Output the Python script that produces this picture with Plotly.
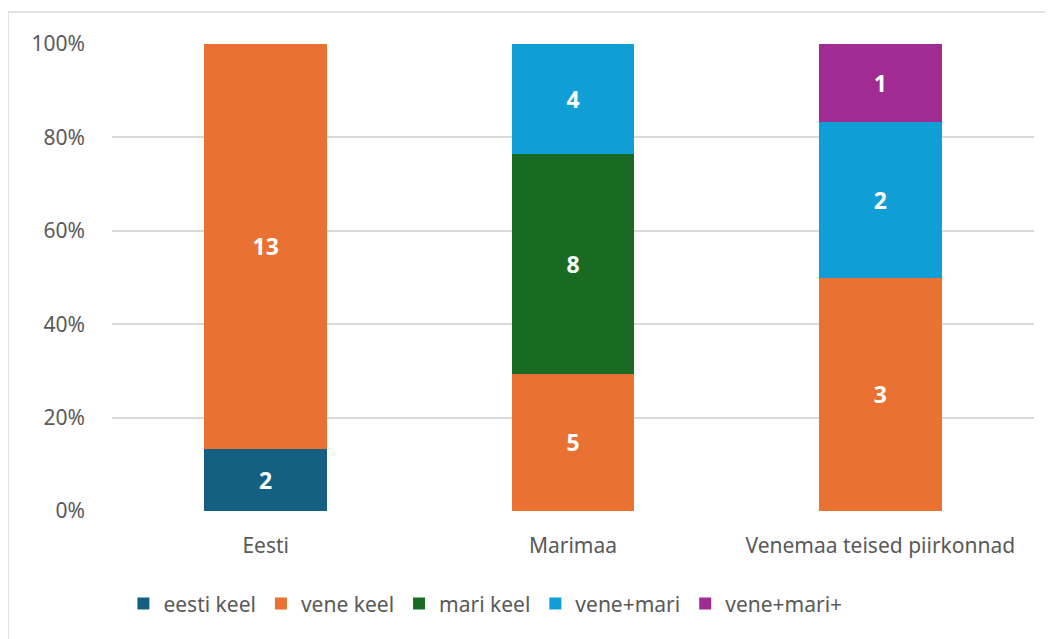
import plotly.graph_objects as go

categories = ["Eesti", "Marimaa", "Venemaa teised piirkonnad"]
series_names = ["eesti keel", "vene keel", "mari keel", "vene+mari", "vene+mari+"]
eesti_keel = [2, 0, 0]
vene_keel = [13, 5, 3]
mari_keel = [0, 8, 0]
vene_mari = [0, 4, 2]
vene_mari_plus = [0, 0, 1]
colors = ["#156082", "#E97132", "#196B24", "#0F9ED5", "#A02B93"]
tick_vals = [0, 20, 40, 60, 80, 100]
tick_text = ["0%", "20%", "40%", "60%", "80%", "100%"]

FONT = "Noto Sans"
fig = go.Figure()
for name, vals, col in zip(series_names,
                           [eesti_keel, vene_keel, mari_keel, vene_mari, vene_mari_plus],
                           colors):
    fig.add_trace(go.Bar(
        name=name, x=categories, y=vals, marker_color=col,
        marker_line_width=0,
        text=[str(v) if v else "" for v in vals],
        textposition="inside", insidetextanchor="middle",
        textfont=dict(color="white", size=23, family=FONT, weight="bold"),
        hoverinfo="skip",
    ))

fig.update_layout(
    barmode="stack", barnorm="percent", bargap=0.6,
    width=1045, height=631,
    margin=dict(l=104, r=19, t=36, b=128),
    paper_bgcolor="white", plot_bgcolor="white",
    font=dict(family=FONT, color="#595959", size=21),
    uniformtext=dict(mode=False),
    showlegend=True,
    legend=dict(orientation="h", x=0.405, xanchor="center", y=-0.199, yanchor="middle",
                font=dict(size=21, color="#595959"), itemwidth=30, traceorder="normal"),
    xaxis=dict(showgrid=False, showline=False, ticks="", tickfont=dict(size=21),
               ticklabelstandoff=20),
    yaxis=dict(range=[0, 100], tickvals=tick_vals, ticktext=tick_text,
               showgrid=True, gridcolor="#D9D9D9", gridwidth=1.5,
               zeroline=False, showline=False, ticks="", ticklabelstandoff=26,
               tickfont=dict(size=21)),
    shapes=[dict(type="rect", xref="paper", yref="paper",
                 x0=-0.1128, x1=1.04, y0=-0.3, y1=1.0685,
                 line=dict(color="#D9D9D9", width=1.5), fillcolor="rgba(0,0,0,0)",
                 layer="below")],
)
fig.write_html("out.html")
